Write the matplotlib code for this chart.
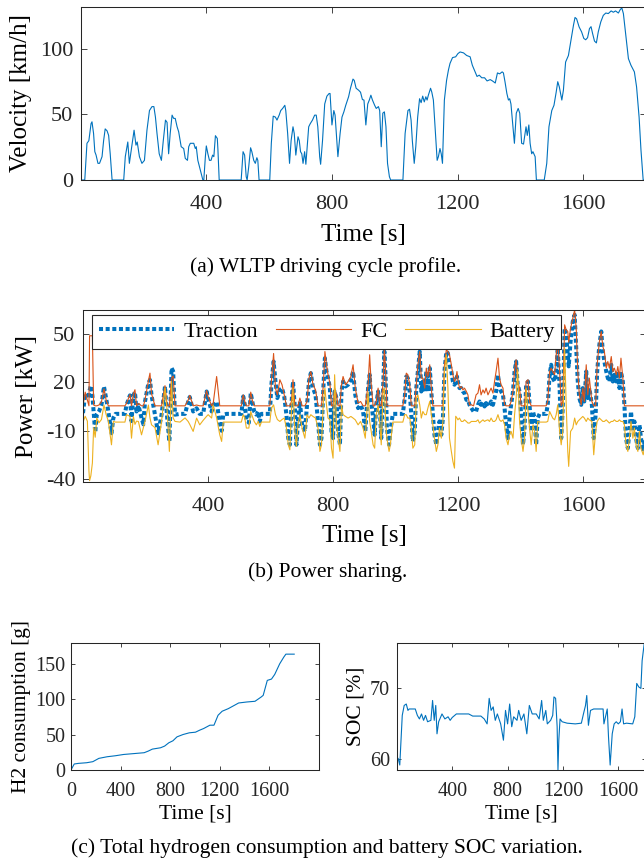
import matplotlib
matplotlib.use("Agg")
import matplotlib.pyplot as plt
import numpy as np

plt.rcParams["font.family"] = ["Liberation Serif", "DejaVu Serif"]
plt.rcParams["axes.unicode_minus"] = False
plt.rcParams["axes.linewidth"] = 0.75
plt.rcParams["axes.edgecolor"] = "#262626"
plt.rcParams["xtick.color"] = "#262626"
plt.rcParams["ytick.color"] = "#262626"

BLUE = "#0072BD"
ORANGE = "#D95319"
YELLOW = "#EDB120"

# (a) WLTP velocity profile [km/h]
t_vel = [1, 13, 20, 26, 33, 36, 41, 45, 49, 55, 60, 68, 73, 78, 84, 89, 94, 100, 137, 142,
         150, 155, 164, 170, 176, 180, 187, 195, 203, 211, 219, 227, 233, 238, 243, 250, 257, 263, 270, 275,
         280, 285, 291, 296, 301, 307, 312, 320, 328, 333, 340, 344, 349, 360, 365, 368, 373, 381, 389, 392,
         397, 400, 405, 410, 415, 420, 424, 429, 435, 437, 441, 511, 517, 522, 527, 530, 535, 541, 545, 551,
         556, 561, 564, 568, 602, 607, 613, 620, 625, 632, 637, 643, 650, 653, 659, 665, 670, 676, 680, 685,
         692, 696, 700, 704, 708, 713, 717, 726, 731, 738, 745, 750, 755, 761, 764, 770, 777, 784, 791, 794,
         800, 806, 810, 819, 826, 832, 838, 844, 853, 859, 867, 871, 877, 885, 891, 897, 902, 908, 914, 919,
         924, 929, 936, 941, 948, 952, 957, 962, 967, 972, 977, 983, 987, 1026, 1033, 1042, 1047, 1052, 1056, 1062,
         1067, 1073, 1079, 1084, 1089, 1094, 1099, 1103, 1107, 1114, 1118, 1123, 1129, 1135, 1139, 1144, 1148, 1152, 1158, 1165,
         1171, 1176, 1184, 1194, 1201, 1208, 1219, 1229, 1240, 1247, 1256, 1262, 1269, 1277, 1286, 1294, 1304, 1311, 1320, 1327,
         1334, 1342, 1346, 1351, 1357, 1362, 1366, 1370, 1377, 1381, 1387, 1393, 1398, 1404, 1410, 1415, 1418, 1422, 1427, 1431,
         1436, 1440, 1447, 1451, 1476, 1484, 1491, 1500, 1507, 1514, 1519, 1524, 1532, 1537, 1544, 1553, 1561, 1569, 1574, 1579,
         1587, 1595, 1602, 1608, 1614, 1620, 1625, 1630, 1636, 1642, 1648, 1656, 1664, 1672, 1680, 1689, 1696, 1703, 1712, 1718,
         1723, 1728, 1735, 1744, 1752, 1763, 1770, 1778, 1784, 1791, 1800]
velocity = [0, 0, 28, 30, 43, 44.4, 35.5, 21.6, 19, 12.7, 12.7, 17.8, 30, 39, 37.5, 34, 20, 0, 0, 17.8,
            29, 12.7, 28, 38, 26.6, 29, 17.8, 12.7, 15, 38, 53, 56, 56, 48, 35.5, 20, 15, 30, 45.7, 44,
            20, 35.5, 49.5, 47, 47, 40.6, 36.8, 25.4, 24, 16.5, 15, 25.4, 28, 28, 24, 25.4, 15, 7.6, 0, 0,
            17.8, 26, 20, 15, 15, 19, 17.8, 33.8, 31.7, 23, 0, 0, 21.6, 19, 2.5, 0, 10, 24.6, 21.6, 15,
            12.7, 17, 15, 0, 0, 28, 48.7, 48, 45.7, 49.5, 53, 54.6, 57, 53, 35.5, 12.7, 30, 40.6, 35.5, 19,
            33, 30, 21.6, 20, 12.7, 21.6, 12, 40.6, 43, 45.7, 49.5, 49.5, 40.6, 17.8, 12, 30, 58, 64, 66, 66,
            42, 53, 49.5, 17.8, 35.5, 48, 52, 57, 63.5, 70, 77, 76, 70, 68.5, 67, 61.4, 61, 42, 58, 61,
            64.7, 61, 57, 54.6, 56, 53, 25.4, 51, 52, 40.6, 12.7, 2.5, 0, 0, 35.5, 53, 54, 45.7, 30, 12.7,
            25.4, 48, 62, 59, 64, 59.6, 63.5, 61, 64.7, 70, 67, 61, 38, 15, 17.8, 24, 20, 12.7, 61, 76,
            84, 89, 93.4, 94, 96.4, 97.7, 97, 95, 94, 87.6, 82.5, 79, 80, 78, 78, 75.6, 76.6, 75.6, 74, 81.7,
            81, 82.5, 81.7, 75, 66, 61, 62, 58, 39, 28, 51, 54.6, 51, 28, 27.4, 35.5, 40.6, 34, 42, 28,
            20, 21.6, 17.8, 0, 0, 12.7, 40.6, 53, 57, 67, 75, 71, 61, 68.5, 90, 95, 106.6, 118, 124, 123,
            116.8, 113, 108, 107, 108.6, 115.5, 117, 111.7, 106, 104.6, 113, 120.6, 125.6, 127.4, 127, 129, 128, 129, 127.4, 130,
            131.3, 127, 111.7, 92.6, 87.6, 82.5, 71, 48, 22.8, 0, 0]

# (b) power sharing [kW]
t_pow = [1, 8, 15, 20, 22, 26, 31, 35, 40, 45, 52, 60, 68, 75, 82, 92, 98, 105, 135, 140,
         151, 156, 162, 167, 172, 178, 188, 194, 199, 210, 215, 220, 231, 241, 252, 263, 270, 277, 284, 289,
         295, 311, 327, 337, 342, 353, 364, 374, 385, 396, 401, 412, 417, 428, 438, 444, 449, 460, 507, 513,
         518, 523, 531, 537, 542, 548, 555, 561, 566, 571, 598, 603, 610, 616, 622, 630, 637, 644, 651, 657,
         662, 667, 672, 678, 683, 688, 694, 701, 710, 717, 723, 729, 736, 744, 752, 758, 763, 769, 774, 779,
         784, 790, 795, 800, 805, 811, 816, 822, 827, 832, 840, 848, 857, 864, 871, 880, 888, 896, 903, 912,
         917, 922, 928, 933, 938, 944, 949, 954, 960, 964, 968, 972, 979, 983, 991, 1023, 1029, 1034, 1039, 1045,
         1050, 1055, 1061, 1066, 1071, 1077, 1082, 1087, 1093, 1098, 1103, 1109, 1114, 1119, 1124, 1130, 1135, 1140, 1146, 1151,
         1156, 1162, 1167, 1172, 1178, 1183, 1188, 1192, 1196, 1199, 1204, 1210, 1215, 1220, 1226, 1231, 1236, 1242, 1249, 1257,
         1263, 1268, 1273, 1279, 1284, 1289, 1295, 1300, 1305, 1311, 1316, 1321, 1327, 1332, 1337, 1343, 1348, 1353, 1359, 1364,
         1369, 1375, 1380, 1385, 1390, 1396, 1401, 1407, 1412, 1417, 1423, 1428, 1433, 1439, 1444, 1449, 1454, 1460, 1481, 1486,
         1492, 1497, 1502, 1508, 1513, 1518, 1524, 1529, 1534, 1540, 1545, 1550, 1553, 1559, 1566, 1572, 1577, 1582, 1587, 1593,
         1598, 1603, 1609, 1614, 1619, 1627, 1633, 1639, 1644, 1651, 1657, 1662, 1667, 1673, 1678, 1683, 1689, 1694, 1699, 1705,
         1710, 1715, 1720, 1726, 1731, 1736, 1742, 1747, 1752, 1758, 1763, 1768, 1774, 1779, 1784, 1791, 1800]
traction = [1, 13, 10, 12, 15, 18, 12, 2, -11, 0, 2, 6, 17.5, 10, 2, -11.5, -2, 0.5, 0.5, 6,
            12, -4, 12, 14, 2, 6, -2, -6, 8, 19.6, 21.6, 12, 0, -11.5, 0, 17.5, -2, -16.6, 29, 27,
            0, 0.5, 0.5, 8, 11, 2, 4, 0.5, 0.5, 14.4, 10, 2, 6, 8, -5, -10, 0, 0.5, 0.5, 11.3,
            6, -3, -5, 13.4, 8.2, 2, 0, 2, -4.2, 0.5, 0.5, 18.6, 33, 20.6, 10.3, 15.4, 16.5, 11.3, 0, -14.6,
            -18.7, 6.1, 20.6, 4.1, -18.7, -4.2, 8.2, -6.3, -10.4, 6.1, 20.6, 25.8, 16.5, 12.3, -4.2, -18.7, -14.6, 16.5, 35.1, 26.8,
            22.7, 16.5, -10.4, -14.6, 14.4, 10.3, -10.4, -18.7, 14.4, 20.6, 17.5, 18.6, 21.7, 26.8, 12.3, 4.1, 6.1, 2, -10.4, 16.5,
            24.8, 8.2, -2.1, -12.5, 6.1, 14.4, 6.1, -14.6, 16.5, 39.2, 22.7, -8.3, -18.7, -10.4, 0.5, 0.5, 10.3, 23.7, 22.7, 14.4,
            0, -16.6, -10.4, 16.5, 26.8, 39.2, 14.4, 20.6, 14.4, 26.8, 14.4, 28.9, 14.4, 0, -12.5, -18.7, -10.4, -4.2, -12.5, -2.1,
            26.8, 39.2, 38.2, 31, 26.8, 20.6, 18.6, 21, 23.7, 20.6, 16.5, 16.5, 14.4, 13.4, 9.2, 9.2, 6.1, 4.1, 2, 2,
            6.1, 8.2, 6.1, 8.2, 5.1, 7.2, 5.1, 6.1, 8.2, 6.1, 10.3, 14.4, 24.8, 16.5, 14.4, 12.3, 4.1, -6.3, -14.6, -2.1,
            6.1, 14.4, 26.8, 33, 18.6, 14.4, 0, -18.7, -8.3, 18.6, 20.6, 6.1, -10.4, 2, -2.1, -18.7, -2.1, 0.5, 0.5, 6.1,
            24.8, 31, 22.7, 20.6, 26.8, 41.3, 16.5, -14.6, 4.1, 53.7, 49.6, 37.2, 30, 45.4, 57.9, 62, 41.3, 20.6, 10.3, 6.1,
            16.5, 8.2, 26.8, 10.3, 16.5, 6.1, -14.6, 0, 26.8, 43.4, 51.7, 39.2, 33, 26.8, 22.7, 20.6, 31, 20.6, 24.8, 20.6,
            26.8, 16.5, 26.8, 20.6, 6.1, -14.6, -20.8, -10.4, 2, -10.4, -4.2, -14.6, -20.8, -6.3, -14.6, -22.8, -10]
fuel_cell = [5.5, 14, 9, 5.5, 49, 49, 49, 6, 5.5, 5.5, 6, 8, 16, 9, 5.5, 5.5, 5.5, 5.5, 5.5, 7,
             12.5, 5.5, 13, 15.5, 5.5, 7, 5.5, 5.5, 9, 21, 25.8, 13, 5.5, 5.5, 5.5, 18, 5.5, 5.5, 22.7, 24,
             5.5, 5.5, 5.5, 9, 12, 5.5, 6, 5.5, 5.5, 15, 11, 5.5, 7, 23.7, 5.5, 5.5, 5.5, 5.5, 5.5, 12.3,
             8.2, 5.5, 5.5, 14, 9, 5.5, 5.5, 5.5, 5.5, 5.5, 5.5, 20.6, 38, 16.5, 12.3, 21.7, 18.6, 12.3, 5.5, 5.5,
             5.5, 8.2, 21.7, 5.5, 5.5, 5.5, 10.3, 5.5, 5.5, 8.2, 22.7, 26.8, 18.6, 15.4, 5.5, 5.5, 5.5, 18.6, 39.2, 31,
             24.8, 19.6, 5.5, 5.5, 16.5, 12.3, 5.5, 5.5, 18.6, 23.7, 18.6, 20.6, 23.7, 31, 16.5, 7.2, 8.2, 5.5, 5.5, 18.6,
             37.2, 18.6, 5.5, 5.5, 8.2, 16.5, 5.5, 5.5, 20.6, 41.3, 26.8, 5.5, 5.5, 5.5, 5.5, 5.5, 12.3, 25.8, 24.8, 18.6,
             5.5, 5.5, 5.5, 18.6, 31, 39.2, 22.7, 22.7, 16.5, 28.9, 23.7, 31, 16.5, 5.5, 5.5, 5.5, 5.5, 5.5, 5.5, 5.5,
             31, 40.3, 39.2, 37.2, 31, 24.8, 20.6, 22, 26.8, 21.7, 16.5, 17.5, 15.4, 16.5, 14.4, 12.3, 6.1, 6.1, 5.5, 12.3,
             13.4, 18.6, 12.3, 15.4, 13.4, 16.5, 12.3, 14.4, 16.5, 13.4, 20.6, 26.8, 35.1, 22.7, 18.6, 16.5, 6.1, 5.5, 5.5, 5.5,
             8.2, 14.4, 27.9, 34.1, 20.6, 16.5, 5.5, 5.5, 5.5, 20.6, 21.7, 8.2, 5.5, 5.5, 5.5, 5.5, 5.5, 5.5, 5.5, 8.2,
             26.8, 28.9, 26.8, 24.8, 37.2, 47.5, 26.8, 5.5, 8.2, 55.8, 52.7, 51.7, 45, 53.7, 59.9, 65, 53.7, 26.8, 12.3, 6.1,
             16.5, 8.2, 31, 12.3, 22.7, 8.2, 5.5, 5.5, 31, 45.4, 51.7, 42.3, 39.2, 28.9, 33, 28.9, 36.1, 26.8, 28.9, 24.8,
             29.9, 22.7, 35.1, 22.7, 5.5, 5.5, 5.5, 5.5, 5.5, 5.5, 5.5, 5.5, 5.5, 5.5, 5.5, 5.5, 5.5]
battery = [-4.6, -1, -4, -35, -41, -38, -30, -8, -14, -2, -5, -3, 6, 0, -4, -18.7, -4.2, -4.6, -4.6, 0,
           -1, -14.6, -1, -6, -4, -4.2, -12.5, -8, -4.2, 6, -2, -6.3, -8, -18.7, -4.2, 16.5, 2, -22.8, 20.6, -2,
           -4.2, -4.6, -2, -4.2, -6, -10.4, -2.1, -6.3, -3.5, -1, 0, -2.1, 6, -2, -12.5, -16.6, -4.6, -4.6, -4.6, 0,
           -2.1, -8.3, -8.3, 2, -1, -4.2, -6.3, -4.2, -7.3, -4.6, -4.6, 4.1, 6.1, 0, -3, -4.2, -3, -2.1, -8.3, -18.7,
           -21.8, 2, 16.5, -10.4, -19.7, -6.3, 0, -8.3, -14.6, 0, -2.1, 0, -1.1, -2.1, -8.3, -22.8, -18.7, 8.2, 16.5, 6.1,
           -2.1, -3.2, -20.8, -27, 24.8, -6.3, -14.6, -22.8, 6.1, 0, -1.1, -2.1, -1.1, -2.1, -3.2, -6.3, -4.2, -8.3, -14.6, 14,
           -4.2, -10.4, -18.7, -20.8, 0, 6.1, -4.2, -18.7, 14.4, 16.5, -4.2, -14.6, -22.8, -18.7, -4.6, -4.6, 0, 0, -2.1, -2.1,
           -8.3, -20.8, -18.7, 10.3, 12.3, 6.1, -2.1, 2, 0, 0, 4.1, 8.2, 0, -6.3, -14.6, -22.8, -18.7, -8.3, -14.6, -4.2,
           26.8, 37.2, 16.5, -14.6, -22.8, -29, -33.2, -1, -2.1, -3.2, -2.1, -4.2, -4.2, -3.2, -4.2, -5.2, -5.2, -4.2, -4.2, -4.2,
           -3.2, -5.2, -4.2, -3.2, -4.2, -3.6, -3.2, -4.2, -2.1, -4.2, -4.2, -3.2, 0, -3.2, -4.2, -3.2, -6.3, -14.6, -18.7, -12.5,
           -10.4, -14.6, 0, 10.3, 28, -4.2, -14.6, -22.8, -14.6, 16.5, 2, -8.3, -18.7, -6.3, -10.4, -22.8, -4.2, -4.6, -4.6, -4.2,
           2, 0, -2.1, -3.2, 0, 6.1, -10.4, -18.7, -10.4, 41.3, 6.1, -22.8, -32.1, -10.4, -8.3, -2.1, -6.3, -4.2, -3.2, -2.1,
           -1.1, -2.1, -4.2, -2.1, -3.2, -4.2, -24.9, -10.4, -4.2, -2.1, -3.2, -4.2, -4.2, -3.2, -4.2, -5.2, -4.2, -4.2, -3.2, -4.2,
           -4.2, -3.2, -4.2, -4.2, -6.3, -18.7, -22.8, -14.6, -4.2, -14.6, -8.3, -18.7, -22.8, -10.4, -20.8, -24.9, -16]

# (c) cumulative hydrogen [g] and battery SOC [%]
t_h2 = [0, 26, 60, 126, 176, 225, 292, 358, 424, 490, 590, 623, 656, 722, 755, 789, 822, 855, 904, 954,
        1004, 1037, 1070, 1120, 1153, 1186, 1219, 1269, 1318, 1352, 1418, 1484, 1534, 1550, 1583, 1617, 1643, 1683, 1716, 1733,
        1800]
h2 = [0, 8.5, 9.4, 10.3, 11.8, 16.5, 18.8, 20.2, 22, 23, 24.5, 26.8, 29.6, 31.5, 33.9, 38.6, 41.4, 47, 50.3, 52.7,
      53.6, 56.4, 58.8, 63.5, 63.5, 77.6, 83.3, 87, 91.7, 95, 96.4, 97.4, 103.5, 105.8, 127, 128.9, 135.5, 150.5, 160, 164.2,
      164.2]

t_soc = [1, 10, 21, 39, 53, 68, 80, 89, 104, 133, 148, 163, 178, 193, 207, 222, 246, 258, 270, 281,
         290, 302, 326, 347, 370, 385, 400, 430, 519, 548, 607, 631, 652, 667, 681, 696, 711, 726, 750, 770,
         785, 800, 815, 830, 844, 868, 880, 898, 918, 939, 957, 978, 1007, 1028, 1046, 1058, 1076, 1087, 1111, 1126,
         1135, 1147, 1158, 1164, 1170, 1179, 1194, 1230, 1289, 1333, 1348, 1363, 1372, 1384, 1399, 1422, 1467, 1490, 1496, 1520,
         1529, 1541, 1556, 1570, 1585, 1600, 1615, 1627, 1638, 1659, 1704, 1719, 1733, 1748, 1763, 1772, 1787, 1800]
soc = [60.2, 60.0, 59.1, 66.1, 67.5, 67.7, 66.8, 67, 67, 67, 66.1, 65.6, 66.3, 65.4, 66.1, 65.2, 65.4, 68.2, 65.4, 67.5,
       63.5, 65.2, 66.3, 65.6, 65.9, 65.4, 65.8, 66.3, 66.3, 66, 66, 65.6, 64.9, 68.5, 66.8, 67.3, 65.4, 66.3, 64.9, 62.6,
       66.8, 64.9, 67.7, 64.5, 65.9, 65.4, 66.8, 65.4, 66.3, 63.5, 67.5, 66.3, 66.3, 65.6, 68.2, 65.4, 66.8, 64.9, 65.4, 66.1,
       68.7, 68.5, 64.5, 58.4, 62.6, 65.6, 65.2, 65, 64.9, 65, 66.3, 67.5, 68.9, 64.7, 66.8, 67, 67, 67, 64.9, 67,
       63.1, 59.1, 63.5, 64.9, 65.2, 64.9, 65.2, 67, 64.9, 65, 64.9, 65.9, 70.6, 70.1, 69.9, 73.8, 76.2, 76.3]

W, H = 644, 860


def box(left, top, right, bottom):
    return [left / W, 1 - bottom / H, (right - left) / W, (bottom - top) / H]


def style(ax, size, length, xpad, ypad):
    ax.tick_params(direction="in", top=True, right=True, labelsize=size,
                   length=length, width=0.6)
    ax.tick_params(axis="x", pad=xpad)
    ax.tick_params(axis="y", pad=ypad)
    for s in ax.spines.values():
        s.set_linewidth(0.75)


fig = plt.figure(figsize=(W / 100, H / 100), dpi=100)

# (a)
ax1 = fig.add_axes(box(81, 7, 646, 180))
ax1.plot(t_vel, velocity, color=BLUE, lw=0.8)
ax1.set_xlim(1, 1800)
ax1.set_ylim(0, 132)
ax1.set_xticks([400, 800, 1200, 1600])
ax1.set_yticks([0, 50, 100])
style(ax1, 16, 4, 10.5, 5.5)
ax1.set_xlabel("Time [s]", fontsize=18)
ax1.set_ylabel("Velocity [km/h]", fontsize=18)
ax1.xaxis.set_label_coords(0.5, -0.254)
ax1.yaxis.set_label_coords(-0.087, 0.5)

# (b)
ax2 = fig.add_axes(box(83, 310, 646, 482))
ax2.plot(t_pow, traction, color=BLUE, lw=2.9, linestyle=(0, (1.0, 0.65)),
         dash_capstyle="butt", label="Traction")
ax2.plot(t_pow, fuel_cell, color=ORANGE, lw=0.8, label="FC")
ax2.plot(t_pow, battery, color=YELLOW, lw=0.8, label="Battery")
ax2.set_xlim(1, 1800)
ax2.set_ylim(-41.8, 65)
ax2.set_xticks([400, 800, 1200, 1600])
ax2.set_yticks([-40, -10, 20, 50])
style(ax2, 16, 4, 10.5, 5.5)
ax2.set_xlabel("Time [s]", fontsize=18)
ax2.set_ylabel("Power [kW]", fontsize=18)
ax2.xaxis.set_label_coords(0.5, -0.25)
ax2.yaxis.set_label_coords(-0.08, 0.5)
leg = ax2.legend(loc="upper left", bbox_to_anchor=(0.016, 0.972), ncol=3, fontsize=16,
                 handlelength=3.4, handletextpad=0.4, columnspacing=0.8, borderpad=0.3,
                 borderaxespad=0, frameon=True, fancybox=False, framealpha=1)
leg.get_frame().set_edgecolor("#262626")
leg.get_frame().set_linewidth(0.8)

# (c) left
ax3 = fig.add_axes(box(71, 643, 319, 770))
ax3.plot(t_h2, h2, color=BLUE, lw=0.8)
ax3.set_xlim(0, 2000)
ax3.set_ylim(0, 180)
ax3.set_xticks([0, 400, 800, 1200, 1600])
ax3.set_yticks([0, 50, 100, 150])
style(ax3, 14.5, 3, 8.5, 4)
ax3.set_xlabel("Time [s]", fontsize=15.5)
ax3.set_ylabel("H2 consumption [g]", fontsize=15.5)
ax3.xaxis.set_label_coords(0.5, -0.275)
ax3.yaxis.set_label_coords(-0.161, 0.5)

# (c) right
ax4 = fig.add_axes(box(397, 643, 646, 770))
ax4.plot(t_soc, soc, color=BLUE, lw=0.8)
ax4.set_xlim(1, 1800)
ax4.set_ylim(58.4, 76.3)
ax4.set_xticks([400, 800, 1200, 1600])
ax4.set_yticks([60, 70])
style(ax4, 14.5, 3, 8.5, 5)
ax4.set_xlabel("Time [s]", fontsize=15.5)
ax4.set_ylabel("SOC [%]", fontsize=15.5)
ax4.xaxis.set_label_coords(0.5, -0.275)
ax4.yaxis.set_label_coords(-0.125, 0.5)

fig.text(326 / W, 1 - 267 / H, "(a) WLTP driving cycle profile.", ha="center", va="center", fontsize=15.5)
fig.text(328 / W, 1 - 572 / H, "(b) Power sharing.", ha="center", va="center", fontsize=15.5)
fig.text(327 / W, 1 - 848 / H, "(c) Total hydrogen consumption and battery SOC variation.",
         ha="center", va="center", fontsize=15.5)

fig.savefig("out.png", dpi=100)
